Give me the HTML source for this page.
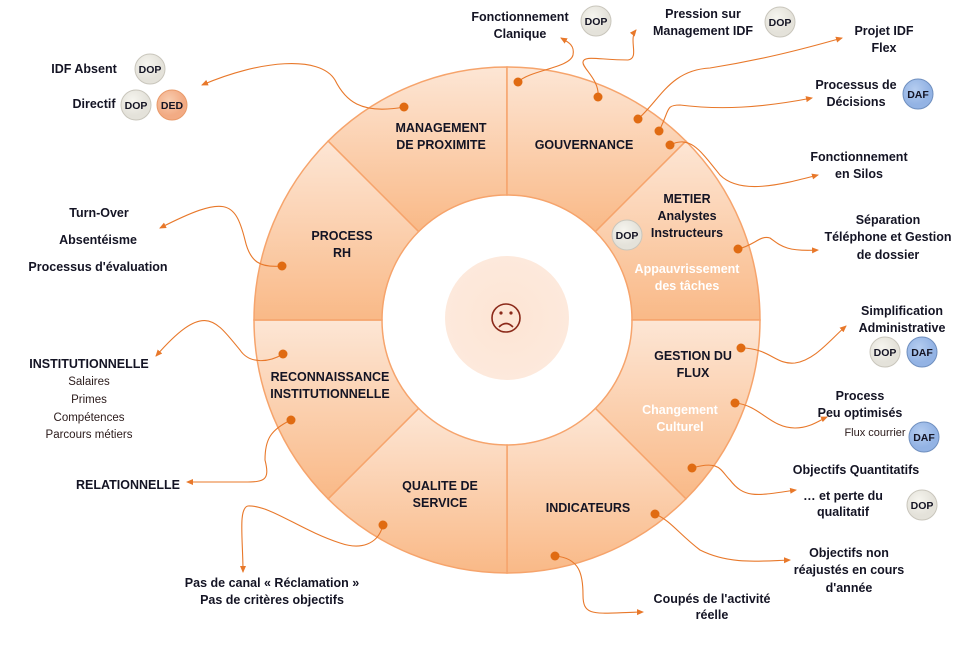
<!DOCTYPE html>
<html><head><meta charset="utf-8"><style>
html,body{margin:0;padding:0;background:#fff;}
svg{display:block;font-family:"Liberation Sans",sans-serif;}
.t{font-size:12.5px;font-weight:bold;fill:#141424;text-anchor:middle;}
.n{font-size:11.5px;fill:#2a1a1a;text-anchor:middle;}
.w{font-size:12.5px;font-weight:bold;fill:#fff;text-anchor:middle;}
.b{font-size:10.5px;font-weight:bold;fill:#141424;text-anchor:middle;}
.c{fill:none;stroke:#e8782a;stroke-width:1.1;}
.d{fill:#e06b12;}
</style></head><body>
<svg width="966" height="650" viewBox="0 0 966 650">
<defs>
<linearGradient id="g" x1="0" y1="0" x2="0" y2="1"><stop offset="0" stop-color="#fde6d5"/><stop offset="1" stop-color="#f9b987"/></linearGradient>
<radialGradient id="cg"><stop offset="0" stop-color="#fde5d4"/><stop offset="1" stop-color="#fde9dc"/></radialGradient>
<radialGradient id="gb" cx="0.4" cy="0.35"><stop offset="0" stop-color="#f6f5ef"/><stop offset="1" stop-color="#e4e2da"/></radialGradient>
<radialGradient id="bb" cx="0.4" cy="0.35"><stop offset="0" stop-color="#b5cdf0"/><stop offset="1" stop-color="#93b3e4"/></radialGradient>
<radialGradient id="ob" cx="0.4" cy="0.35"><stop offset="0" stop-color="#f8cdb0"/><stop offset="1" stop-color="#f2ab84"/></radialGradient>
<marker id="a" markerWidth="8" markerHeight="8" refX="6" refY="4" orient="auto" markerUnits="userSpaceOnUse"><path d="M0,1 L7,4 L0,7 Z" fill="#e8782a"/></marker>
</defs>
<g stroke="#f6a46c" stroke-width="1.5" fill="url(#g)">
<path d="M507,67 A253,253 0 0 0 328.1,141.1 L418.6,231.6 A125,125 0 0 1 507,195 Z"/>
<path d="M685.9,141.1 A253,253 0 0 0 507,67 L507,195 A125,125 0 0 1 595.4,231.6 Z"/>
<path d="M760,320 A253,253 0 0 0 685.9,141.1 L595.4,231.6 A125,125 0 0 1 632,320 Z"/>
<path d="M685.9,498.9 A253,253 0 0 0 760,320 L632,320 A125,125 0 0 1 595.4,408.4 Z"/>
<path d="M507,573 A253,253 0 0 0 685.9,498.9 L595.4,408.4 A125,125 0 0 1 507,445 Z"/>
<path d="M328.1,498.9 A253,253 0 0 0 507,573 L507,445 A125,125 0 0 1 418.6,408.4 Z"/>
<path d="M254,320 A253,253 0 0 0 328.1,498.9 L418.6,408.4 A125,125 0 0 1 382,320 Z"/>
<path d="M328.1,141.1 A253,253 0 0 0 254,320 L382,320 A125,125 0 0 1 418.6,231.6 Z"/>
</g>
<circle cx="507" cy="320" r="124" fill="#fff"/>
<circle cx="507" cy="318" r="62" fill="url(#cg)"/>
<g stroke="#8b2a1a" stroke-width="1.6" fill="none">
<circle cx="506" cy="318" r="14"/>
<path d="M499,327 Q506,320 513,327"/>
</g>
<circle cx="501" cy="313" r="1.6" fill="#8b2a1a"/><circle cx="511" cy="313" r="1.6" fill="#8b2a1a"/>
<text class="t" x="441" y="132">MANAGEMENT</text><text class="t" x="441" y="149">DE PROXIMITE</text>
<text class="t" x="584" y="149">GOUVERNANCE</text>
<text class="t" x="687" y="203">METIER</text><text class="t" x="687" y="220">Analystes</text><text class="t" x="687" y="237">Instructeurs</text>
<text class="w" x="687" y="273">Appauvrissement</text><text class="w" x="687" y="290">des tâches</text>
<text class="t" x="342" y="240">PROCESS</text><text class="t" x="342" y="257">RH</text>
<text class="t" x="330" y="381">RECONNAISSANCE</text><text class="t" x="330" y="398">INSTITUTIONNELLE</text>
<text class="t" x="693" y="360">GESTION DU</text><text class="t" x="693" y="377">FLUX</text>
<text class="w" x="680" y="414">Changement</text><text class="w" x="680" y="431">Culturel</text>
<text class="t" x="440" y="490">QUALITE DE</text><text class="t" x="440" y="507">SERVICE</text>
<text class="t" x="588" y="512">INDICATEURS</text>
<g class="c" marker-end="url(#a)">
<path d="M404,107 C360,115 345,100 335,80 C320,55 260,60 202,85"/>
<path d="M518,82 C530,70 570,68 573,55 C575,45 568,42 561,38"/>
<path d="M598,97 C600,80 582,68 583,62 C584,55 600,60 628,60 C640,58 628,40 636,30"/>
<path d="M638,119 C660,100 670,70 710,68 C760,60 800,50 842,38"/>
<path d="M659,131 C670,110 665,105 680,105 C720,110 760,108 812,98"/>
<path d="M670,145 C690,135 700,150 720,175 C740,195 780,185 818,175"/>
<path d="M738,249 C755,245 760,235 770,238 C780,245 785,252 818,250"/>
<path d="M741,348 C770,348 775,365 795,363 C815,360 830,340 846,326"/>
<path d="M735,403 C760,405 770,428 795,428 C810,428 820,420 827,417"/>
<path d="M692,468 C720,460 720,470 730,480 C745,500 760,495 796,490"/>
<path d="M655,514 C670,520 680,535 700,550 C730,565 760,561 790,560"/>
<path d="M555,556 C580,558 583,575 583,595 C583,618 595,613 643,612"/>
<path d="M383,525 C378,545 360,550 340,543 C300,530 270,505 248,506 C238,508 243,540 243,572"/>
<path d="M291,420 C270,430 265,440 265,460 C270,480 265,482 245,482 L187,482"/>
<path d="M283,354 C270,362 250,365 240,350 C215,320 205,300 156,356"/>
<path d="M282,266 C260,268 250,262 245,240 C235,200 225,195 160,228"/>
</g>
<g class="d">
<circle cx="404" cy="107" r="4.5"/><circle cx="518" cy="82" r="4.5"/><circle cx="598" cy="97" r="4.5"/>
<circle cx="638" cy="119" r="4.5"/><circle cx="659" cy="131" r="4.5"/><circle cx="670" cy="145" r="4.5"/>
<circle cx="738" cy="249" r="4.5"/><circle cx="741" cy="348" r="4.5"/><circle cx="735" cy="403" r="4.5"/>
<circle cx="692" cy="468" r="4.5"/><circle cx="655" cy="514" r="4.5"/><circle cx="555" cy="556" r="4.5"/>
<circle cx="383" cy="525" r="4.5"/><circle cx="291" cy="420" r="4.5"/><circle cx="283" cy="354" r="4.5"/>
<circle cx="282" cy="266" r="4.5"/>
</g>
<g stroke="#c9c6bc" stroke-width="1">
<circle cx="627" cy="235" r="15" fill="url(#gb)"/>
<circle cx="150" cy="69" r="15" fill="url(#gb)"/>
<circle cx="136" cy="105" r="15" fill="url(#gb)"/>
<circle cx="596" cy="21" r="15" fill="url(#gb)"/>
<circle cx="780" cy="22" r="15" fill="url(#gb)"/>
<circle cx="885" cy="352" r="15" fill="url(#gb)"/>
<circle cx="922" cy="505" r="15" fill="url(#gb)"/>
</g>
<circle cx="172" cy="105" r="15" fill="url(#ob)" stroke="#e99a6a"/>
<g stroke="#6f8fbf" stroke-width="1">
<circle cx="918" cy="94" r="15" fill="url(#bb)"/>
<circle cx="922" cy="352" r="15" fill="url(#bb)"/>
<circle cx="924" cy="437" r="15" fill="url(#bb)"/>
</g>
<g class="b">
<text x="627" y="239">DOP</text><text x="150" y="73">DOP</text><text x="136" y="109">DOP</text>
<text x="172" y="109">DED</text><text x="596" y="25">DOP</text><text x="780" y="26">DOP</text>
<text x="885" y="356">DOP</text><text x="922" y="509">DOP</text>
<text x="918" y="98">DAF</text><text x="922" y="356">DAF</text><text x="924" y="441">DAF</text>
</g>
<g class="t">
<text x="520" y="21">Fonctionnement</text><text x="520" y="38">Clanique</text>
<text x="703" y="18">Pression sur</text><text x="703" y="35">Management IDF</text>
<text x="884" y="35">Projet  IDF</text><text x="884" y="52">Flex</text>
<text x="856" y="89">Processus de</text><text x="856" y="106">Décisions</text>
<text x="859" y="161">Fonctionnement</text><text x="859" y="178">en Silos</text>
<text x="888" y="224">Séparation</text><text x="888" y="241">Téléphone et Gestion</text><text x="888" y="259">de dossier</text>
<text x="902" y="315">Simplification</text><text x="902" y="332">Administrative</text>
<text x="860" y="400">Process</text><text x="860" y="417">Peu optimisés</text>
<text x="856" y="474">Objectifs Quantitatifs</text>
<text x="843" y="500">… et perte du</text><text x="843" y="516">qualitatif</text>
<text x="849" y="557">Objectifs non</text><text x="849" y="574">réajustés en cours</text><text x="849" y="592">d'année</text>
<text x="712" y="603">Coupés de l'activité</text><text x="712" y="619">réelle</text>
<text x="272" y="587">Pas de canal « Réclamation »</text><text x="272" y="604">Pas de critères objectifs</text>
<text x="128" y="489">RELATIONNELLE</text>
<text x="89" y="368">INSTITUTIONNELLE</text>
<text x="99" y="217">Turn-Over</text><text x="98" y="244">Absentéisme</text><text x="98" y="271">Processus d'évaluation</text>
<text x="84" y="73">IDF Absent</text><text x="94" y="108">Directif</text>
</g>
<g class="n">
<text x="875" y="436" font-size="11">Flux courrier</text>
<text x="89" y="385">Salaires</text><text x="89" y="403">Primes</text><text x="89" y="421">Compétences</text><text x="89" y="438">Parcours métiers</text>
</g>
</svg>
</body></html>
